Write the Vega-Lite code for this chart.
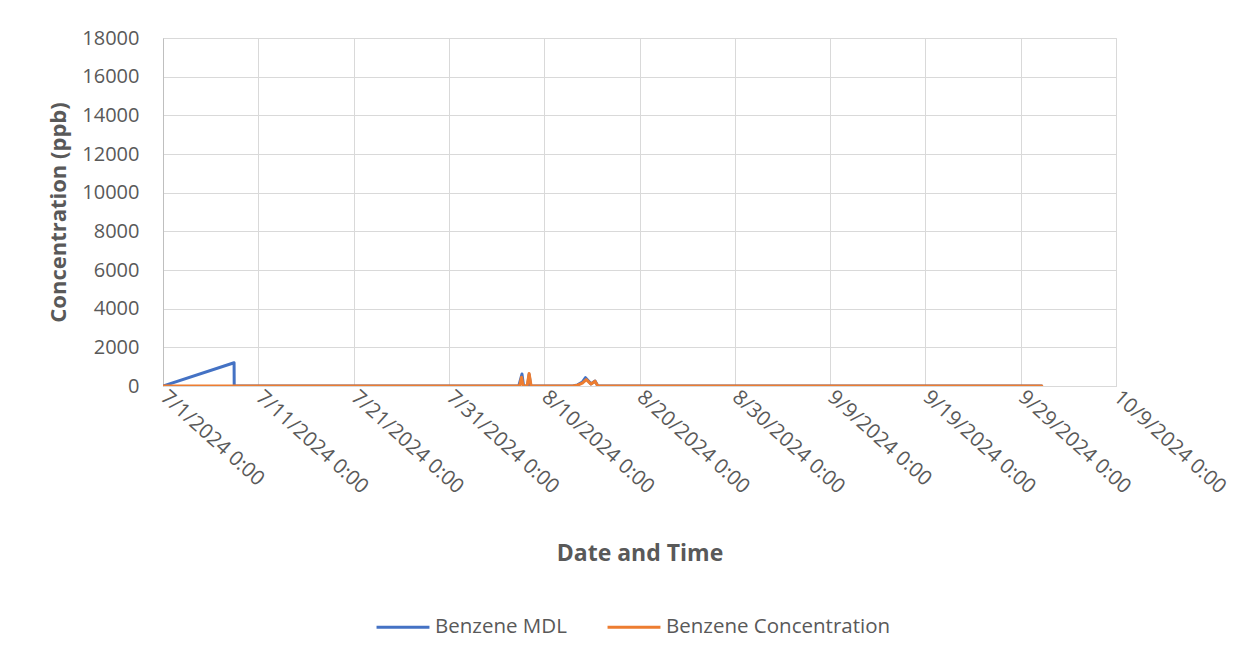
{
  "$schema": "https://vega.github.io/schema/vega-lite/v6.json",
  "width": 953,
  "height": 348,
  "autosize": "none",
  "padding": {"left": 163, "top": 38, "right": 136, "bottom": 274},
  "background": "white",
  "config": {
    "font": "Open Sans",
    "view": {"stroke": "#d9d9d9", "strokeWidth": 1},
    "axis": {"gridColor": "#d9d9d9", "gridWidth": 1, "labelColor": "#595959", "titleColor": "#595959", "labelFont": "Open Sans", "titleFont": "Open Sans"}
  },
  "data": {
    "values": [
      {"t": "2024-07-01T00:00", "s": "Benzene MDL", "v": 0},
      {"t": "2024-07-08T11:00", "s": "Benzene MDL", "v": 1200},
      {"t": "2024-07-08T11:20", "s": "Benzene MDL", "v": 4},
      {"t": "2024-07-15T00:00", "s": "Benzene MDL", "v": 4},
      {"t": "2024-07-25T00:00", "s": "Benzene MDL", "v": 4},
      {"t": "2024-08-07T08:00", "s": "Benzene MDL", "v": 4},
      {"t": "2024-08-07T16:00", "s": "Benzene MDL", "v": 620},
      {"t": "2024-08-07T20:00", "s": "Benzene MDL", "v": 4},
      {"t": "2024-08-08T06:00", "s": "Benzene MDL", "v": 4},
      {"t": "2024-08-08T10:00", "s": "Benzene MDL", "v": 600},
      {"t": "2024-08-08T14:00", "s": "Benzene MDL", "v": 4},
      {"t": "2024-08-13T00:00", "s": "Benzene MDL", "v": 4},
      {"t": "2024-08-13T12:00", "s": "Benzene MDL", "v": 60},
      {"t": "2024-08-14T00:00", "s": "Benzene MDL", "v": 200},
      {"t": "2024-08-14T08:00", "s": "Benzene MDL", "v": 430},
      {"t": "2024-08-14T22:00", "s": "Benzene MDL", "v": 110},
      {"t": "2024-08-15T08:00", "s": "Benzene MDL", "v": 260},
      {"t": "2024-08-15T15:00", "s": "Benzene MDL", "v": 4},
      {"t": "2024-09-01T00:00", "s": "Benzene MDL", "v": 4},
      {"t": "2024-09-15T00:00", "s": "Benzene MDL", "v": 4},
      {"t": "2024-10-01T05:00", "s": "Benzene MDL", "v": 4},
      {"t": "2024-07-01T00:00", "s": "Benzene Concentration", "v": 2},
      {"t": "2024-07-10T00:00", "s": "Benzene Concentration", "v": 3},
      {"t": "2024-07-20T00:00", "s": "Benzene Concentration", "v": 2},
      {"t": "2024-07-30T00:00", "s": "Benzene Concentration", "v": 3},
      {"t": "2024-08-07T10:00", "s": "Benzene Concentration", "v": 3},
      {"t": "2024-08-07T15:00", "s": "Benzene Concentration", "v": 450},
      {"t": "2024-08-07T19:00", "s": "Benzene Concentration", "v": 3},
      {"t": "2024-08-08T05:00", "s": "Benzene Concentration", "v": 3},
      {"t": "2024-08-08T10:00", "s": "Benzene Concentration", "v": 650},
      {"t": "2024-08-08T15:00", "s": "Benzene Concentration", "v": 3},
      {"t": "2024-08-13T00:00", "s": "Benzene Concentration", "v": 3},
      {"t": "2024-08-13T12:00", "s": "Benzene Concentration", "v": 40},
      {"t": "2024-08-14T00:00", "s": "Benzene Concentration", "v": 150},
      {"t": "2024-08-14T10:00", "s": "Benzene Concentration", "v": 330},
      {"t": "2024-08-14T22:00", "s": "Benzene Concentration", "v": 100},
      {"t": "2024-08-15T08:00", "s": "Benzene Concentration", "v": 250},
      {"t": "2024-08-15T15:00", "s": "Benzene Concentration", "v": 4},
      {"t": "2024-08-25T00:00", "s": "Benzene Concentration", "v": 3},
      {"t": "2024-09-10T00:00", "s": "Benzene Concentration", "v": 2},
      {"t": "2024-09-25T00:00", "s": "Benzene Concentration", "v": 3},
      {"t": "2024-10-01T05:00", "s": "Benzene Concentration", "v": 2}
    ]
  },
  "mark": {"type": "line", "strokeWidth": 3, "strokeCap": "round", "strokeJoin": "round", "clip": true},
  "encoding": {
    "x": {
      "field": "t", "type": "temporal",
      "scale": {"domain": [{"year": 2024, "month": 7, "date": 1}, {"year": 2024, "month": 10, "date": 9}]},
      "axis": {
        "title": "Date and Time",
        "titleFontSize": 23, "titleFontWeight": "bold", "titlePadding": 45,
        "values": [
          {"year": 2024, "month": 7, "date": 1}, {"year": 2024, "month": 7, "date": 11}, {"year": 2024, "month": 7, "date": 21},
          {"year": 2024, "month": 7, "date": 31}, {"year": 2024, "month": 8, "date": 10}, {"year": 2024, "month": 8, "date": 20},
          {"year": 2024, "month": 8, "date": 30}, {"year": 2024, "month": 9, "date": 9}, {"year": 2024, "month": 9, "date": 19},
          {"year": 2024, "month": 9, "date": 29}, {"year": 2024, "month": 10, "date": 9}
        ],
        "format": "%-m/%-d/%Y %-H:%M",
        "labelAngle": 42, "labelAlign": "left", "labelBaseline": "middle",
        "labelFontSize": 20.5, "labelPadding": 8, "labelOverlap": false, "labelFlush": false, "labelLimit": 400,
        "ticks": false, "domain": true, "domainColor": "#d9d9d9", "grid": true
      }
    },
    "y": {
      "field": "v", "type": "quantitative",
      "scale": {"domain": [0, 18000], "nice": false},
      "axis": {
        "title": "Concentration (ppb)",
        "titleFontSize": 22, "titleFontWeight": "bold", "titlePadding": 11,
        "values": [0, 2000, 4000, 6000, 8000, 10000, 12000, 14000, 16000, 18000],
        "format": "d",
        "labelFontSize": 20, "labelPadding": 24, "ticks": false,
        "domain": true, "domainColor": "#bfbfbf", "grid": true
      }
    },
    "color": {
      "field": "s", "type": "nominal",
      "scale": {"domain": ["Benzene MDL", "Benzene Concentration"], "range": ["#4472C4", "#ED7D31"]},
      "legend": {
        "title": null, "orient": "none", "direction": "horizontal",
        "legendX": 212, "legendY": 561,
        "symbolType": "stroke", "symbolSize": 2800, "symbolStrokeWidth": 3,
        "labelFontSize": 20.5, "labelColor": "#595959", "labelFont": "Open Sans", "labelLimit": 400,
        "columnPadding": 34, "labelOffset": 4
      }
    },
    "order": {"field": "s", "sort": "descending"}
  }
}
